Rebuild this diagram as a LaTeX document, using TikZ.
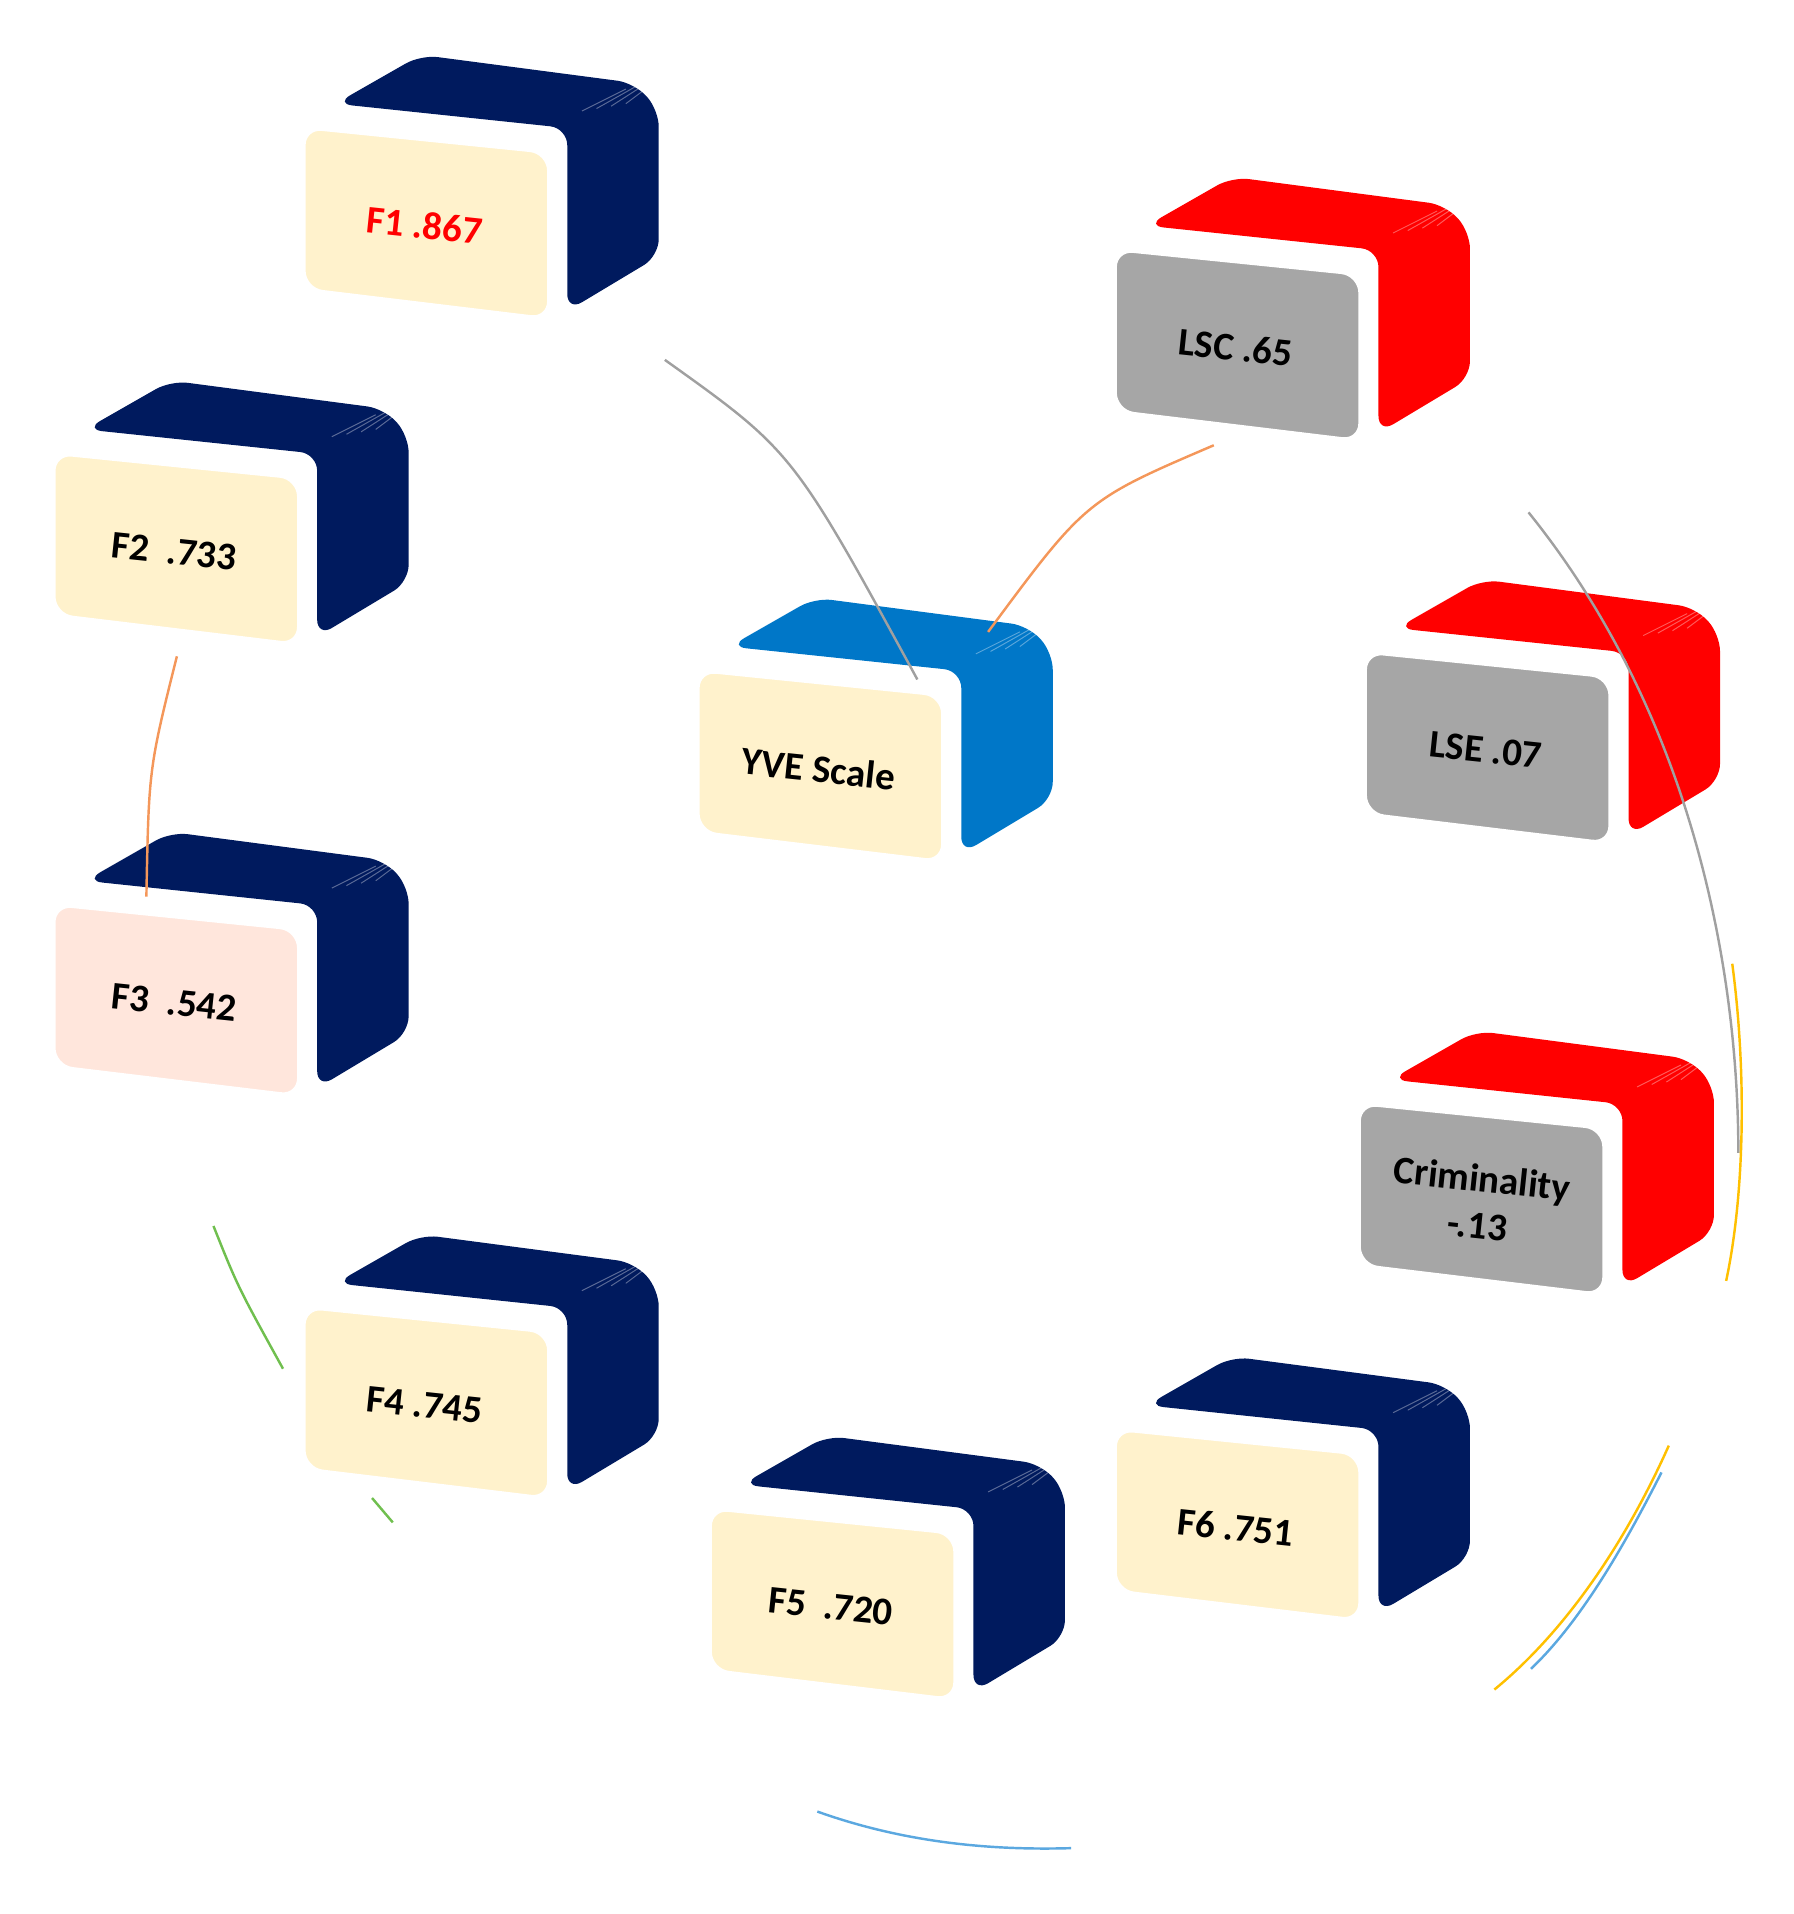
\documentclass[tikz,border=0pt]{standalone}
\usepackage{fontspec}
\setmainfont{Carlito}
\definecolor{navy}{HTML}{001A5E}
\definecolor{sblue}{HTML}{0077C8}
\definecolor{sred}{HTML}{FF0000}
\definecolor{cream}{HTML}{FFF2CC}
\definecolor{pinkc}{HTML}{FFE6DC}
\definecolor{grayc}{HTML}{A6A6A6}
\definecolor{lgray}{HTML}{A0A0A0}
\definecolor{orng}{HTML}{F4975A}
\definecolor{yel}{HTML}{FFC000}
\definecolor{lblue}{HTML}{5BA8E0}
\definecolor{grn}{HTML}{70BF4F}
\tikzset{back/.style={rounded corners=14pt},
 front/.style={draw=white,line width=9pt,rounded corners=18pt},
 lbl/.style={font=\bfseries\fontsize{32}{38}\selectfont,rotate=-6,align=center},
 link/.style={line width=2pt}}
\newcommand{\cubebox}[7]{%
 \begin{scope}[shift={(#1,#2)}]
 \fill[#3,back] (25,-20)--(95,-60)--(270,-37)--(290,-15)--(290,105)--(215,150)--(215,0)--cycle;
 \foreach \k in {1,...,4}{\draw[white,opacity=.35,line width=.8pt] (215+12*\k,-12-2*\k)--(255+8*\k,-30-2*\k);}
 \filldraw[#4,front,draw=white] (-4,-4)--(203,17)--(203,160)--(-4,135)--cycle;
 \node[lbl,text=#5] (#7) at (98,80) {#6};
 \end{scope}}
\begin{document}
\begin{tikzpicture}[x=1pt,y=-1pt]
\useasboundingbox (0,0) rectangle (1470,1569);
\cubebox{250}{105}{navy}{cream}{sred}{F1 .867}{f1}
\cubebox{45}{372}{navy}{cream}{black}{F2\ \ .733}{f2}
\cubebox{45}{742}{navy}{pinkc}{black}{F3\ \ .542}{f3}
\cubebox{250}{1072}{navy}{cream}{black}{F4 .745}{f4}
\cubebox{583}{1237}{navy}{cream}{black}{F5\ \ .720}{f5}
\cubebox{915}{1172}{navy}{cream}{black}{F6 .751}{f6}
\cubebox{573}{550}{sblue}{cream}{black}{YVE Scale}{yve}
\cubebox{915}{205}{sred}{grayc}{black}{LSC .65}{lsc}
\cubebox{1120}{535}{sred}{grayc}{black}{LSE .07}{lse}
\cubebox{1115}{905}{sred}{grayc}{black}{Criminality\\-.13}{crim}
\coordinate (a1) at (545,295); \coordinate (a2) at (752,557);
\draw[link,lgray] (a1) .. controls (650,370) .. (a2);
\coordinate (b1) at (995,365); \coordinate (b2) at (810,518);
\draw[link,orng] (b1) .. controls (890,410) .. (b2);
\coordinate (c1) at (145,538); \coordinate (c2) at (120,735);
\draw[link,orng] (c1) .. controls (122,630) .. (c2);
\coordinate (d1) at (1253,420); \coordinate (d2) at (1425,945);
\draw[link,lgray] (d1) .. controls (1390,590) and (1425,800) .. (d2);
\coordinate (e1) at (1420,790); \coordinate (e2) at (1415,1050);
\draw[link,yel] (e1) .. controls (1432,880) and (1430,980) .. (e2);
\coordinate (g1) at (1368,1185); \coordinate (g2) at (1225,1385);
\draw[link,yel] (g1) .. controls (1330,1270) and (1280,1340) .. (g2);
\coordinate (h1) at (1362,1207); \coordinate (h2) at (1255,1368);
\draw[link,lblue] (h1) .. controls (1330,1270) and (1295,1330) .. (h2);
\coordinate (i1) at (670,1485); \coordinate (i2) at (878,1515);
\draw[link,lblue] (i1) .. controls (740,1510) and (810,1517) .. (i2);
\coordinate (j1) at (175,1005); \coordinate (j2) at (232,1122);
\draw[link,grn] (j1) .. controls (195,1055) .. (j2);
\coordinate (k1) at (305,1228); \coordinate (k2) at (322,1248);
\draw[link,grn] (k1) -- (k2);
\end{tikzpicture}
\end{document}
